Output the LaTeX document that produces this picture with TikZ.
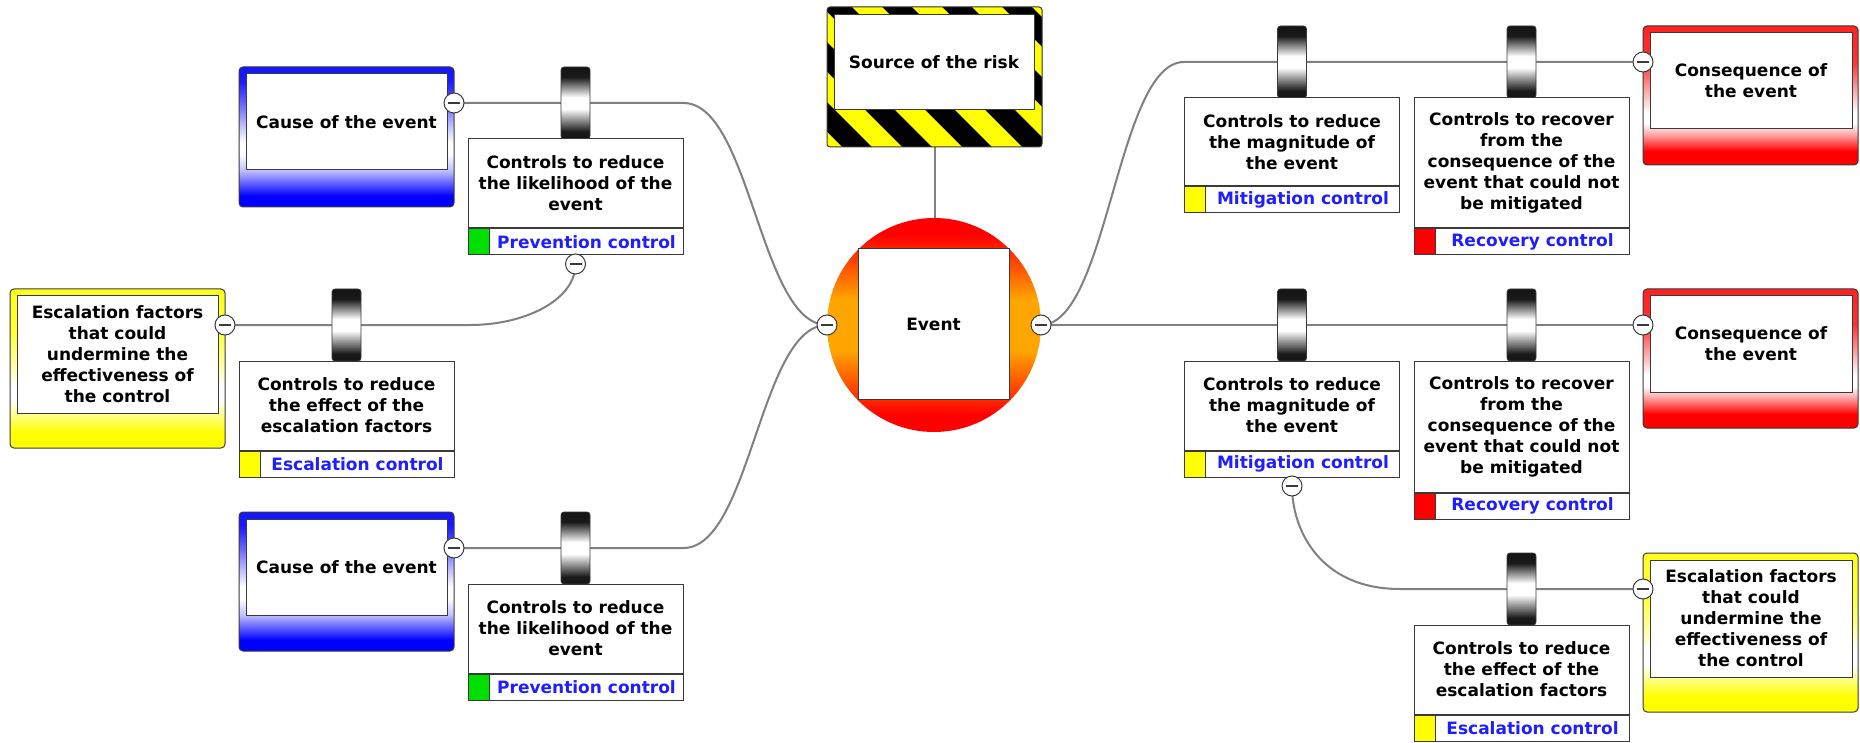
\documentclass[tikz,border=0pt]{standalone}
\usepackage{fontspec}
\setmainfont{DejaVu Sans}
\usetikzlibrary{calc,backgrounds}

\definecolor{lineg}{HTML}{808080}
\definecolor{edge}{HTML}{3A3A3A}
\definecolor{cblue}{HTML}{0000FF}
\definecolor{cred}{HTML}{FF0000}
\definecolor{cyel}{HTML}{FFFF00}
\definecolor{corange}{HTML}{FFA500}
\definecolor{labblue}{HTML}{1E1EFF}
\definecolor{cgreen}{HTML}{00E000}

\pgfdeclareverticalshading{blueshade}{100bp}{color(0bp)=(cblue); color(29bp)=(cblue); color(38bp)=(cblue!25); color(44bp)=(white); color(48bp)=(white); color(54bp)=(cblue!25); color(62bp)=(cblue!60); color(70bp)=(cblue!90); color(100bp)=(cblue)}
\pgfdeclareverticalshading{redshade}{100bp}{color(0bp)=(cred); color(30bp)=(cred); color(36bp)=(cred!35); color(40bp)=(white); color(44bp)=(white); color(52bp)=(cred!35); color(62bp)=(cred!80); color(100bp)=(cred)}
\pgfdeclareverticalshading{yelshade}{100bp}{color(0bp)=(cyel); color(30bp)=(cyel); color(36bp)=(cyel!40); color(40bp)=(white); color(44bp)=(white); color(52bp)=(cyel!40); color(62bp)=(cyel!80); color(100bp)=(cyel)}
\pgfdeclareverticalshading{eventshade}{100bp}{color(0bp)=(cred); color(29bp)=(cred); color(44bp)=(corange); color(56bp)=(corange); color(71bp)=(cred); color(100bp)=(cred)}
\pgfdeclareverticalshading{barshade}{100bp}{color(0bp)=(black); color(30bp)=(black!90); color(46bp)=(white); color(54bp)=(white); color(68bp)=(black!90); color(100bp)=(black)}

\newcommand\boxfont{\fontsize{17}{21}\selectfont\bfseries}

\tikzset{
  conn/.style={draw=lineg, line width=2pt},
  outerbox/.style={draw=edge, line width=1pt, rounded corners=4pt, minimum width=215pt, inner sep=0pt},
  innerbox/.style={draw=edge, line width=1pt, fill=white, minimum width=201pt, inner sep=0pt, align=center, font=\boxfont},
  ctrltop/.style={draw=edge, line width=1pt, fill=white, minimum width=215pt, inner sep=0pt, align=center, font=\boxfont},
  ctrlbot/.style={draw=edge, line width=1pt, fill=white, minimum width=215pt, minimum height=26pt, inner sep=0pt},
  sqbox/.style={draw=edge, line width=1pt, minimum width=21pt, minimum height=26pt, inner sep=0pt},
  labtext/.style={font=\boxfont, text=labblue, inner sep=0pt},
  barrierbox/.style={draw=edge, line width=0.8pt, rounded corners=3pt, shade, shading=barshade, minimum width=29pt, minimum height=72pt, inner sep=0pt},
  minus/.style={circle, draw=edge, line width=1pt, fill=white, minimum size=20pt, inner sep=0pt,
    path picture={\draw[line width=1.3pt, edge] ([xshift=-6pt]path picture bounding box.center) -- ([xshift=6pt]path picture bounding box.center);}},
}

% name, centre x, top y, upper height, text, square colour, label
\newcommand\mkctrl[7]{%
  \node[ctrltop, minimum height=#4pt] (#1) at (#2,{#3+#4/2}) {#5};
  \node[ctrlbot, anchor=north] (#1-b) at (#1.south) {};
  \node[sqbox, fill=#6, anchor=north west] (#1-sq) at (#1-b.north west) {};
  \node[labtext] (#1-lab) at ($(#1-sq.east)!0.5!(#1-b.east)$) {#7};
}

\begin{document}
\begin{tikzpicture}[x=1pt,y=-1pt]
\useasboundingbox (0,0) rectangle (1860,743);

% ---------- source of the risk ----------
\fill[black, rounded corners=3pt] (827,7) rectangle (1042,147);
\begin{scope}
  \clip[rounded corners=3pt] (827,7) rectangle (1042,147);
  \foreach \sx in {605,665,...,1085}
    \fill[cyel] (\sx,0) -- ++(30,0) -- ++(160,160) -- ++(-30,0) -- cycle;
\end{scope}
\node[draw=edge, line width=1pt, rounded corners=3pt, minimum width=215pt, minimum height=140pt, inner sep=0pt] (src) at (934.5,77) {};
\node[innerbox, minimum width=200pt, minimum height=95pt] (srcin) at (934,62.5) {Source of the risk};

% ---------- event ----------
\node[circle, minimum size=214pt, inner sep=0pt, shade, shading=eventshade] (event) at (934,325) {};
\node[draw=edge, line width=1pt, fill=white, minimum width=151pt, minimum height=150pt, inner sep=0pt, font=\boxfont] (evsq) at (933.5,324) {Event};
\node[minus] (evL) at (827,325) {};
\node[minus] (evR) at (1041,325) {};

% ---------- left side ----------
\node[outerbox, minimum height=140pt, shade, shading=blueshade] (cause1) at (346.5,137) {};
\node[innerbox, minimum height=96pt] (cause1in) at (346.5,122) {Cause of the event};
\node[minus] (c1m) at (454,103) {};

\node[outerbox, minimum height=159pt, shade, shading=yelshade] (escL) at (117.5,368.5) {};
\node[innerbox, minimum height=117pt] (escLin) at (117.5,354.5) {Escalation factors\\that could\\undermine the\\effectiveness of\\the control};
\node[minus] (eLm) at (225,325) {};

\node[outerbox, minimum height=139pt, shade, shading=blueshade] (cause2) at (346.5,581.5) {};
\node[innerbox, minimum height=96pt] (cause2in) at (346.5,567) {Cause of the event};
\node[minus] (c2m) at (454,548) {};

\node[barrierbox] (bar1) at (575.5,103) {};
\mkctrl{prev1}{575.5}{139}{89}{Controls to reduce\\the likelihood of the\\event}{cgreen}{Prevention control}
\node[minus] (p1m) at (575.5,264) {};

\node[barrierbox] (bar2) at (346.5,325) {};
\mkctrl{escCL}{346.5}{361}{89}{Controls to reduce\\the effect of the\\escalation factors}{cyel}{Escalation control}

\node[barrierbox] (bar3) at (575.5,548) {};
\mkctrl{prev2}{575.5}{584}{89}{Controls to reduce\\the likelihood of the\\event}{cgreen}{Prevention control}

% ---------- right side ----------
\node[barrierbox] (bar4) at (1292,62) {};
\mkctrl{mit1}{1292}{98}{88}{Controls to reduce\\the magnitude of\\the event}{cyel}{Mitigation control}
\node[barrierbox] (bar5) at (1521.5,62) {};
\mkctrl{rec1}{1521.5}{98}{130}{Controls to recover\\from the\\consequence of the\\event that could not\\be mitigated}{cred}{Recovery control}
\node[outerbox, minimum height=139pt, shade, shading=redshade] (cons1) at (1750.5,95.5) {};
\node[innerbox, minimum width=202pt, minimum height=96pt] (cons1in) at (1751,81) {Consequence of\\the event};
\node[minus] (k1m) at (1643,62) {};

\node[barrierbox] (bar6) at (1292,325) {};
\mkctrl{mit2}{1292}{361}{89}{Controls to reduce\\the magnitude of\\the event}{cyel}{Mitigation control}
\node[minus] (m2m) at (1292,486) {};
\node[barrierbox] (bar7) at (1521.5,325) {};
\mkctrl{rec2}{1521.5}{361}{131}{Controls to recover\\from the\\consequence of the\\event that could not\\be mitigated}{cred}{Recovery control}
\node[outerbox, minimum height=139pt, shade, shading=redshade] (cons2) at (1750.5,358.5) {};
\node[innerbox, minimum width=202pt, minimum height=96pt] (cons2in) at (1751,344) {Consequence of\\the event};
\node[minus] (k2m) at (1643,325) {};

\node[barrierbox] (bar8) at (1521.5,589) {};
\mkctrl{escCR}{1521.5}{625}{89}{Controls to reduce\\the effect of the\\escalation factors}{cyel}{Escalation control}
\node[outerbox, minimum height=159pt, shade, shading=yelshade] (escR) at (1750.5,632.5) {};
\node[innerbox, minimum width=202pt, minimum height=117pt] (escRin) at (1751,618.5) {Escalation factors\\that could\\undermine the\\effectiveness of\\the control};
\node[minus] (eRm) at (1643,589) {};

\coordinate (eLbend) at (470,325);
\coordinate (eRbend) at (1400,589);

% ---------- connectors ----------
\begin{pgfonlayer}{background}
  \fill[white] (0,0) rectangle (1860,743);
  \draw[conn] (src.south) -- (src.south |- event.north);
  \draw[conn] (c1m.center) -- (c1m.center -| prev1.east) .. controls +(67,0) and +(-67,0) .. (evL.center);
  \draw[conn] (c2m.center) -- (c2m.center -| prev2.east) .. controls +(67,0) and +(-67,0) .. (evL.center);
  \draw[conn] (eLm.center) -- (eLbend) .. controls +(55,0) and +(0,36) .. (p1m.center);
  \draw[conn] (evR.center) .. controls +(67,0) and +(-67,0) .. (k1m.center -| mit1.west) -- (k1m.center);
  \draw[conn] (evR.center) -- (k2m.center);
  \draw[conn] (m2m.center) .. controls +(0,44) and +(-80,0) .. (eRbend) -- (eRm.center);
\end{pgfonlayer}
\end{tikzpicture}
\end{document}
